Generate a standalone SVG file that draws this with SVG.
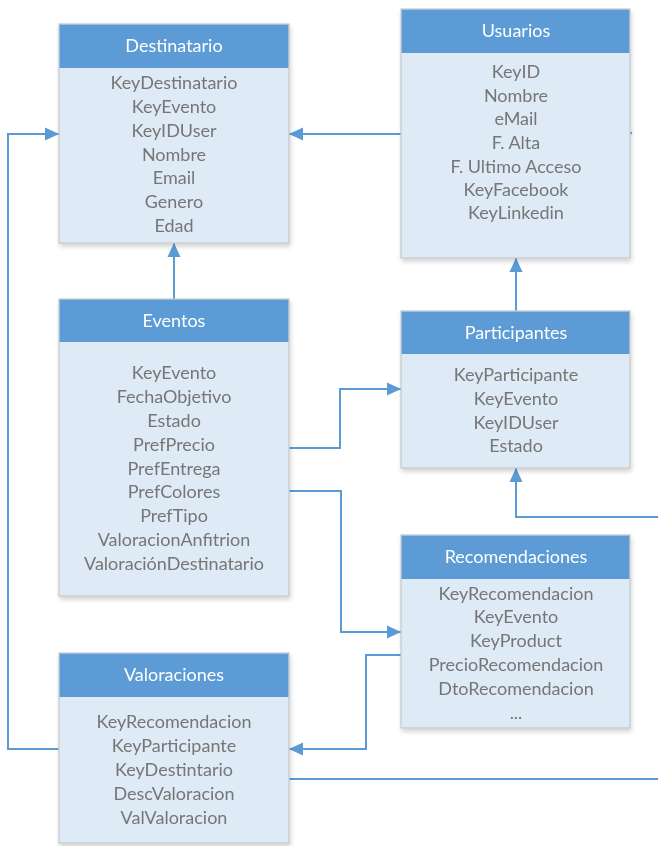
<svg xmlns="http://www.w3.org/2000/svg" width="658" height="846" viewBox="0 0 658 846">
  <defs>
    <style>
      .body { fill: #deeaf6; stroke: #c4c8cc; stroke-width: 1.2; }
      .head { fill: #5b9bd5; }
      .title { font-family: Lato, "Open Sans", "Liberation Sans", sans-serif; font-size: 18px; fill: #ffffff; text-anchor: middle; }
      .field { font-family: Lato, "Open Sans", "Liberation Sans", sans-serif; font-size: 18px; fill: #767676; text-anchor: middle; }
      .link { fill: none; stroke: #5b9bd5; stroke-width: 2; }
    </style>
    <marker id="arrow" viewBox="0 0 14 14" refX="14" refY="7" markerWidth="14" markerHeight="14" markerUnits="userSpaceOnUse" orient="auto">
      <path d="M0,0.5 L14,7 L0,13.5 Z" fill="#5b9bd5"/>
    </marker>
    <filter id="shadow" x="-10%" y="-10%" width="125%" height="125%">
      <feGaussianBlur in="SourceAlpha" stdDeviation="2.5"/>
      <feOffset dx="1" dy="3"/>
      <feComponentTransfer><feFuncA type="linear" slope="0.18"/></feComponentTransfer>
      <feMerge><feMergeNode/><feMergeNode in="SourceGraphic"/></feMerge>
    </filter>
  </defs>

  <rect width="658" height="846" fill="#ffffff"/>

  <!-- connectors -->
  <g id="connectors">
    <path class="link" d="M401,134 L289,134" marker-end="url(#arrow)"/>
    <path class="link" d="M174,299 L174,243" marker-end="url(#arrow)"/>
    <path class="link" d="M516,311 L516,258" marker-end="url(#arrow)"/>
    <path class="link" d="M289,448 L340,448 L340,389 L401,389" marker-end="url(#arrow)"/>
    <path class="link" d="M289,491 L341,491 L341,632 L401,632" marker-end="url(#arrow)"/>
    <path class="link" d="M658,517 L516,517 L516,468" marker-end="url(#arrow)"/>
    <path class="link" d="M401,655 L366,655 L366,749 L289,749" marker-end="url(#arrow)"/>
    <path class="link" d="M59,749 L8,749 L8,134 L59,134" marker-end="url(#arrow)"/>
    <path class="link" d="M289,779 L658,779"/>
    <circle cx="631" cy="133" r="1.2" fill="#5b9bd5"/>
  </g>

  <!-- Destinatario -->
  <g id="destinatario" filter="url(#shadow)">
    <rect class="body" x="59" y="24" width="230" height="219"/>
    <rect class="head" x="59.6" y="24.6" width="228.8" height="43.4"/>
    <text class="title" x="174" y="52">Destinatario</text>
    <text class="field" x="174" y="89">KeyDestinatario</text>
    <text class="field" x="174" y="113">KeyEvento</text>
    <text class="field" x="174" y="137">KeyIDUser</text>
    <text class="field" x="174" y="161">Nombre</text>
    <text class="field" x="174" y="184">Email</text>
    <text class="field" x="174" y="208">Genero</text>
    <text class="field" x="174" y="232">Edad</text>
  </g>

  <!-- Usuarios -->
  <g id="usuarios" filter="url(#shadow)">
    <rect class="body" x="401" y="9" width="229" height="249"/>
    <rect class="head" x="401.6" y="9.6" width="227.8" height="43.4"/>
    <text class="title" x="516" y="37">Usuarios</text>
    <text class="field" x="516" y="78">KeyID</text>
    <text class="field" x="516" y="102">Nombre</text>
    <text class="field" x="516" y="125">eMail</text>
    <text class="field" x="516" y="149">F. Alta</text>
    <text class="field" x="516" y="173">F. Ultimo Acceso</text>
    <text class="field" x="516" y="196">KeyFacebook</text>
    <text class="field" x="516" y="219">KeyLinkedin</text>
  </g>

  <!-- Eventos -->
  <g id="eventos" filter="url(#shadow)">
    <rect class="body" x="59" y="299" width="230" height="297"/>
    <rect class="head" x="59.6" y="299.6" width="228.8" height="42.4"/>
    <text class="title" x="174" y="327">Eventos</text>
    <text class="field" x="174" y="379">KeyEvento</text>
    <text class="field" x="174" y="403">FechaObjetivo</text>
    <text class="field" x="174" y="427">Estado</text>
    <text class="field" x="174" y="451">PrefPrecio</text>
    <text class="field" x="174" y="475">PrefEntrega</text>
    <text class="field" x="174" y="498">PrefColores</text>
    <text class="field" x="174" y="522">PrefTipo</text>
    <text class="field" x="174" y="546">ValoracionAnfitrion</text>
    <text class="field" x="174" y="570">ValoraciónDestinatario</text>
  </g>

  <!-- Participantes -->
  <g id="participantes" filter="url(#shadow)">
    <rect class="body" x="401" y="311" width="229" height="157"/>
    <rect class="head" x="401.6" y="311.6" width="227.8" height="42.4"/>
    <text class="title" x="516" y="339">Participantes</text>
    <text class="field" x="516" y="381">KeyParticipante</text>
    <text class="field" x="516" y="405">KeyEvento</text>
    <text class="field" x="516" y="429">KeyIDUser</text>
    <text class="field" x="516" y="452">Estado</text>
  </g>

  <!-- Recomendaciones -->
  <g id="recomendaciones" filter="url(#shadow)">
    <rect class="body" x="401" y="535" width="229" height="193"/>
    <rect class="head" x="401.6" y="535.6" width="227.8" height="43.4"/>
    <text class="title" x="516" y="563">Recomendaciones</text>
    <text class="field" x="516" y="600">KeyRecomendacion</text>
    <text class="field" x="516" y="623">KeyEvento</text>
    <text class="field" x="516" y="647">KeyProduct</text>
    <text class="field" x="516" y="671">PrecioRecomendacion</text>
    <text class="field" x="516" y="695">DtoRecomendacion</text>
    <text class="field" x="516" y="719">...</text>
  </g>

  <!-- Valoraciones -->
  <g id="valoraciones" filter="url(#shadow)">
    <rect class="body" x="59" y="653" width="230" height="190"/>
    <rect class="head" x="59.6" y="653.6" width="228.8" height="43.4"/>
    <text class="title" x="174" y="681">Valoraciones</text>
    <text class="field" x="174" y="728">KeyRecomendacion</text>
    <text class="field" x="174" y="752">KeyParticipante</text>
    <text class="field" x="174" y="776">KeyDestintario</text>
    <text class="field" x="174" y="800">DescValoracion</text>
    <text class="field" x="174" y="824">ValValoracion</text>
  </g>
</svg>
